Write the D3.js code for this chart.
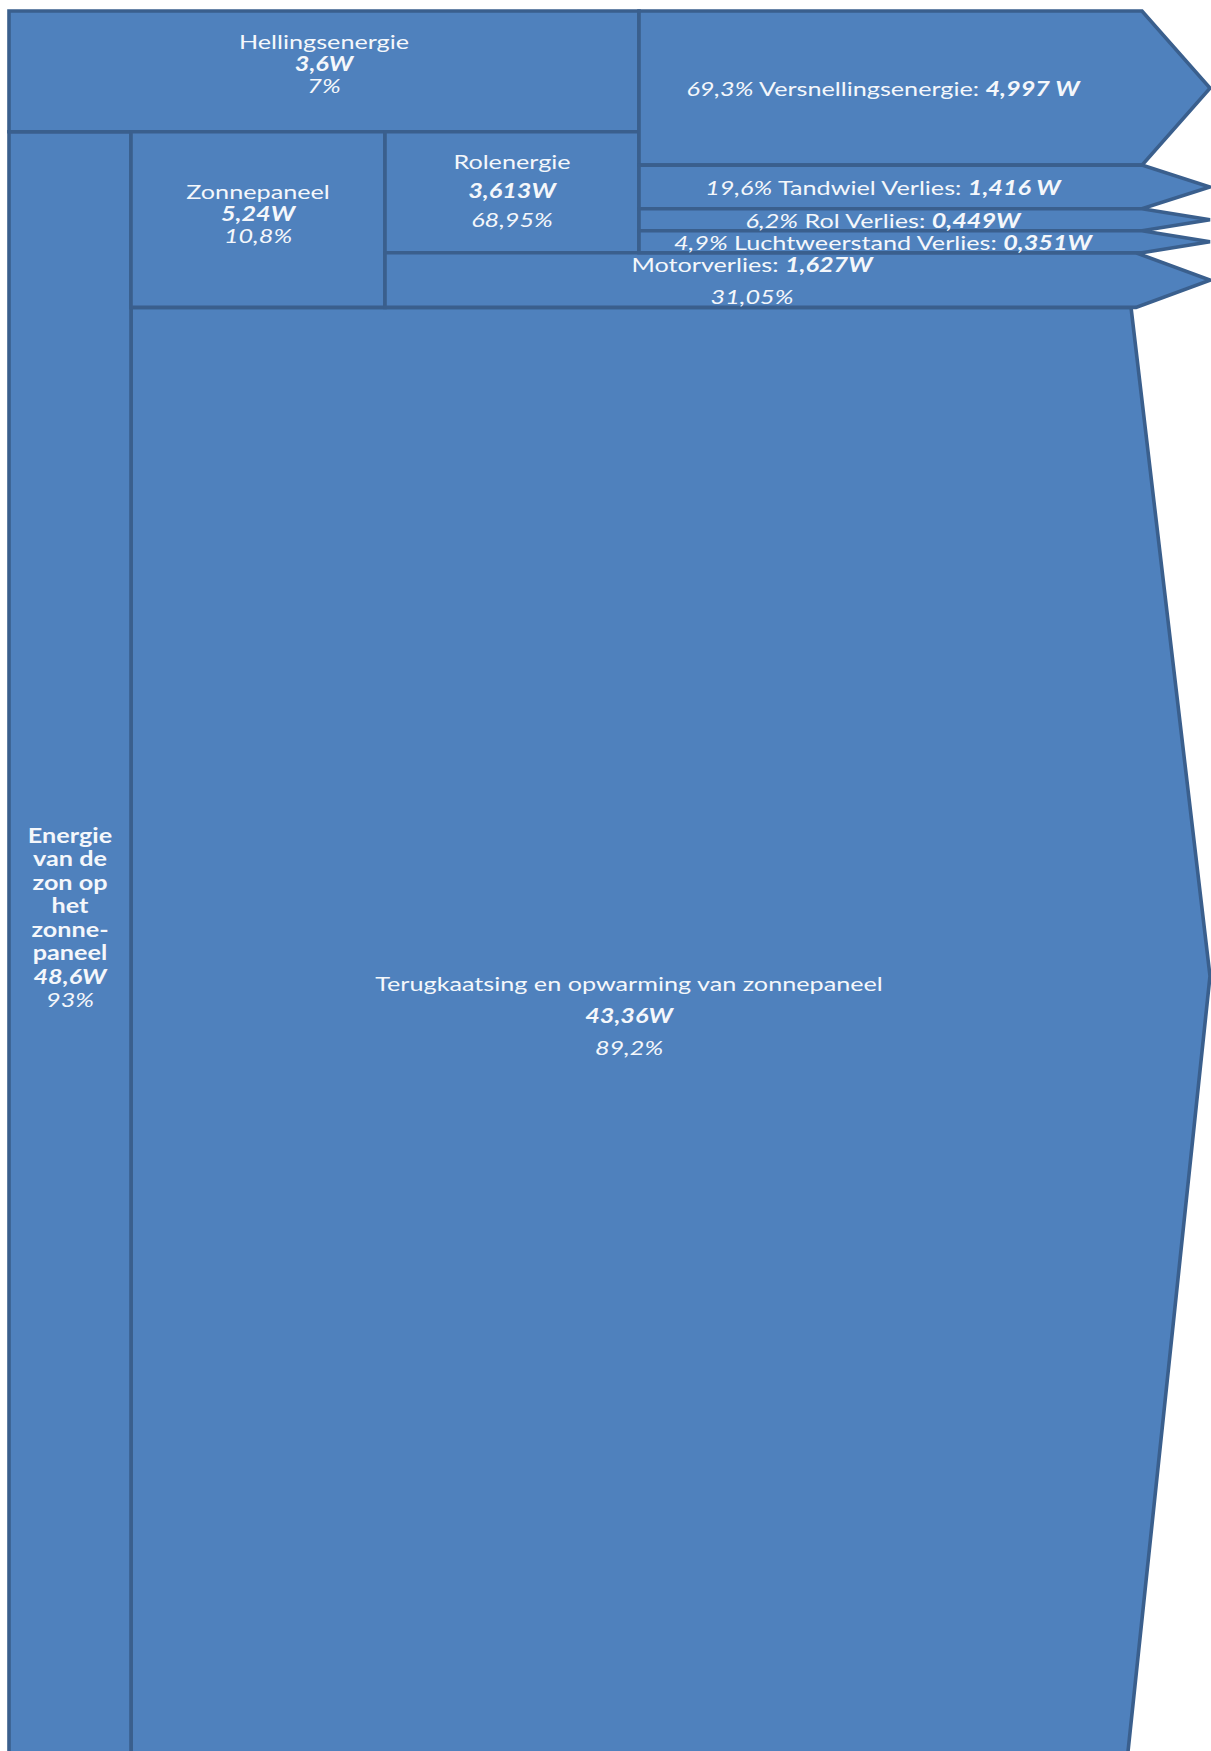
<!DOCTYPE html>
<html>
<head>
<meta charset="utf-8">
<script src="https://cdn.jsdelivr.net/npm/d3@7"></script>
<style>
  html, body { margin: 0; padding: 0; background: #ffffff; }
  svg { display: block; }
  text { font-family: Lato, "Open Sans", sans-serif; fill: #f4f7fb; }
</style>
</head>
<body>
<svg id="chart" width="1211" height="1751"></svg>
<script>
// Energy entering the system (watts) and its share of the total
const inputNames = ["Hellingsenergie", "Energie van de zon op het zonnepaneel"];
const inputWatts = [3.6, 48.6];
const inputShares = ["7%", "93%"];
const sunLabelLines = ["Energie", "van de", "zon op", "het", "zonne-", "paneel"];

// What the panel does with the sunlight
const panelNames = ["Zonnepaneel", "Terugkaatsing en opwarming van zonnepaneel"];
const panelWatts = [5.24, 43.36];
const panelShares = ["10,8%", "89,2%"];

// What the motor does with the panel output
const motorNames = ["Rolenergie", "Motorverlies"];
const motorWatts = [3.613, 1.627];
const motorShares = ["68,95%", "31,05%"];

// Where rolling energy plus slope energy ends up
const outNames = ["Versnellingsenergie", "Tandwiel Verlies", "Rol Verlies", "Luchtweerstand Verlies"];
const outWatts = [4.997, 1.416, 0.449, 0.351];
const outShares = ["69,3%", "19,6%", "6,2%", "4,9%"];
const outUnits = [" W", " W", "W", "W"];

// ---- layout ----
const W = 1211, H = 1751;
const startY = 11;
const colX = [9, 131, 385, 639];     // column boundaries
const headX = { out: 1142, motor: 1136, loss: 1131 }; // where the arrow heads begin
const labelEdge = 1127;               // right edge used to centre the arrow labels
const tipX = 1210;
const minBand = 22;                   // thinnest band drawn
const fill = "#4f81bd", stroke = "#3a5f8d";
const fontSize = 20, stretch = 1.26;

const watt = v => String(v).replace(".", ",");

const svg = d3.select("#chart");
const thick = d3.scaleLinear()
  .domain([0, d3.sum(inputWatts)])
  .range([0, 1750]);

// vertical stacking
const hTop = startY, hBot = hTop + thick(inputWatts[0]);
const sunTop = hBot, sunBot = sunTop + thick(inputWatts[1]);
const panelTop = sunTop, panelBot = panelTop + thick(panelWatts[0]);
const lossTop = panelBot, lossBot = sunBot;
const rolTop = panelTop, rolBot = rolTop + thick(motorWatts[0]);
const motTop = rolBot, motBot = motTop + thick(motorWatts[1]);

// output bands share the height of slope + rolling energy; tiny losses get a minimum band
const outSpan = (hBot - hTop) + (rolBot - rolTop);
const raw = outWatts.map(thick);
const floored = raw.map(r => r < minBand);
const freeSpan = outSpan - minBand * floored.filter(Boolean).length;
const scalableSum = d3.sum(raw.filter((r, i) => !floored[i]));
let acc = hTop;
const outBands = outWatts.map((v, i) => {
  const h = floored[i] ? minBand : raw[i] * freeSpan / scalableSum;
  const b = { y0: acc, y1: acc + h };
  acc += h;
  return b;
});

const poly = d3.line().curve(d3.curveLinearClosed);
const shapes = svg.append("g")
  .attr("fill", fill)
  .attr("stroke", stroke)
  .attr("stroke-width", 3.6)
  .attr("stroke-linejoin", "miter");

function rect(x0, y0, x1, y1) {
  return [[x0, y0], [x1, y0], [x1, y1], [x0, y1]];
}
function arrow(x0, y0, y1, hx) {
  const mid = (y0 + y1) / 2;
  return [[x0, y0], [hx, y0], [tipX, mid], [hx, y1], [x0, y1]];
}

// big loss arrow at the panel
shapes.append("path").attr("d", poly([
  [colX[1], lossTop], [headX.loss, lossTop],
  [tipX, lossTop + 0.46 * (lossBot - lossTop)],
  [headX.loss - 4, lossBot], [colX[1], lossBot]
]));
// sunlight column
shapes.append("path").attr("d", poly(rect(colX[0], sunTop, colX[1], sunBot)));
// slope energy
shapes.append("path").attr("d", poly(rect(colX[0], hTop, colX[3], hBot)));
// panel output
shapes.append("path").attr("d", poly(rect(colX[1], panelTop, colX[2], panelBot)));
// rolling energy
shapes.append("path").attr("d", poly(rect(colX[2], rolTop, colX[3], rolBot)));
// motor loss
shapes.append("path").attr("d", poly(arrow(colX[2], motTop, motBot, headX.motor)));
// outputs
outBands.forEach(b => shapes.append("path").attr("d", poly(arrow(colX[3], b.y0, b.y1, headX.out))));

// ---- labels ----
const R = "r", B = "bi", I = "i", BB = "b";
function label(cx, cy, lines, gap) {
  const g = svg.append("g")
    .attr("transform", `translate(${cx},${cy}) scale(${stretch},1)`)
    .attr("font-size", fontSize)
    .attr("text-anchor", "middle");
  lines.forEach((parts, i) => {
    const t = g.append("text")
      .attr("x", 0)
      .attr("y", (i - (lines.length - 1) / 2) * gap)
      .attr("dominant-baseline", "central");
    parts.forEach(([txt, st]) => {
      t.append("tspan")
        .attr("font-weight", st === B || st === BB ? "bold" : "normal")
        .attr("font-style", st === B || st === I ? "italic" : "normal")
        .text(txt);
    });
  });
}

label((colX[0] + colX[3]) / 2, (hTop + hBot) / 2 - 8, [
  [[inputNames[0], R]], [[watt(inputWatts[0]) + "W", B]], [[inputShares[0], I]]
], 22);

label((colX[1] + colX[2]) / 2, (panelTop + panelBot) / 2 - 6, [
  [[panelNames[0], R]], [[watt(panelWatts[0]) + "W", B]], [[panelShares[0], I]]
], 22);

label((colX[2] + colX[3]) / 2, (rolTop + rolBot) / 2 - 2, [
  [[motorNames[0], R]], [[watt(motorWatts[0]) + "W", B]], [[motorShares[0], I]]
], 29);

outBands.forEach((b, i) => {
  label((colX[3] + labelEdge) / 2, (b.y0 + b.y1) / 2, [
    [[outShares[i], I], [" " + outNames[i] + ": ", R], [watt(outWatts[i]) + outUnits[i], B]]
  ], 0);
});

label((colX[2] + labelEdge) / 2 - 4, (motTop + motBot) / 2, [
  [[motorNames[1] + ": ", R], [watt(motorWatts[1]) + "W", B]], [[motorShares[1], I]]
], 32);

label((colX[1] + labelEdge) / 2, lossTop + 0.49 * (H - lossTop), [
  [[panelNames[1], R]], [[watt(panelWatts[1]) + "W", B]], [[panelShares[1], I]]
], 32);

label((colX[0] + colX[1]) / 2, sunTop + 0.485 * (H - sunTop),
  sunLabelLines.map(s => [[s, BB]])
    .concat([[[watt(inputWatts[1]) + "W", B]], [[inputShares[1], I]]]),
  23.5);
</script>
</body>
</html>
